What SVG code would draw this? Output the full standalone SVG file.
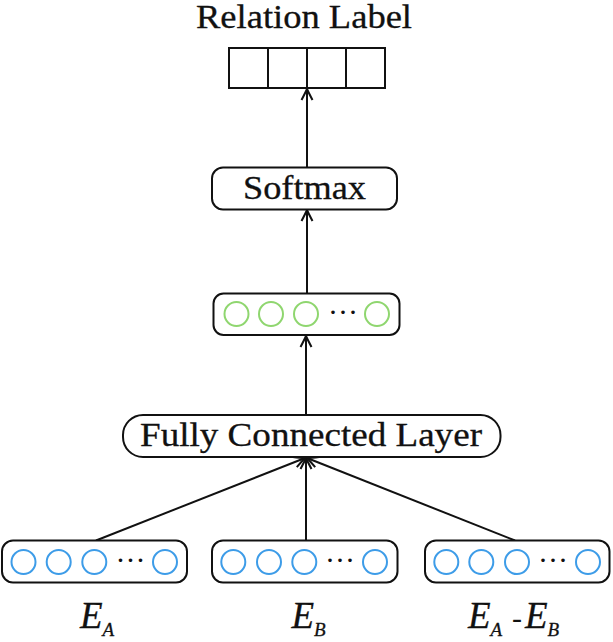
<svg xmlns="http://www.w3.org/2000/svg" width="613" height="642" viewBox="0 0 613 642">
<style>
.box{fill:#fff;stroke:#111;stroke-width:2}
.lbl{font-family:"Liberation Serif","Times New Roman",Times,serif;font-size:33px;fill:#111;stroke:#111;stroke-width:0.3}
.gc{fill:none;stroke:#8fd66f;stroke-width:2}
.bc{fill:none;stroke:#3d9ce8;stroke-width:2}
.dots{font-family:"Liberation Serif","Times New Roman",serif;font-size:30px;fill:#111;text-anchor:middle}
.conn{stroke:#111;stroke-width:2;fill:none;marker-end:url(#arr)}
.math{font-family:"Liberation Serif","Times New Roman",Times,serif;font-style:italic;fill:#111;stroke:#111;stroke-width:0.3}
</style>
<defs>
<marker id="arr" viewBox="-14 -8 16 16" refX="0" refY="0" markerWidth="16" markerHeight="16" markerUnits="userSpaceOnUse" orient="auto">
<path d="M-11,-5.5 Q-4,-1.8 0,0 Q-4,1.8 -11,5.5" fill="none" stroke="#111" stroke-width="2"/>
</marker>
</defs>
<rect width="613" height="642" fill="#fff"/>
<g id="connectors">
<line class="conn" x1="307" y1="167" x2="307" y2="89"/>
<line class="conn" x1="307" y1="293" x2="307" y2="210"/>
<line class="conn" x1="306" y1="415" x2="306" y2="336"/>
<line class="conn" x1="96" y1="540.5" x2="305" y2="458"/>
<line class="conn" x1="306" y1="540.5" x2="306" y2="458"/>
<line class="conn" x1="515" y1="540.5" x2="307" y2="458"/>
</g>
<g id="relation-label">
<text class="lbl" x="196" y="28" textLength="216" lengthAdjust="spacingAndGlyphs">Relation Label</text>
<rect x="229" y="48" width="156" height="40" fill="#fff" stroke="#111" stroke-width="2"/>
<line x1="268" y1="48" x2="268" y2="88" stroke="#111" stroke-width="2"/>
<line x1="307" y1="48" x2="307" y2="88" stroke="#111" stroke-width="2"/>
<line x1="346" y1="48" x2="346" y2="88" stroke="#111" stroke-width="2"/>
</g>
<g id="softmax">
<rect class="box" x="212" y="167.5" width="185" height="42" rx="11"/>
<text class="lbl" x="243" y="199" textLength="123" lengthAdjust="spacingAndGlyphs">Softmax</text>
</g>
<g id="hidden">
<rect class="box" x="213.5" y="293.5" width="186" height="41.5" rx="10"/>
<circle class="gc" cx="236.5" cy="314" r="12"/>
<circle class="gc" cx="271" cy="314" r="12"/>
<circle class="gc" cx="306" cy="314" r="12"/>
<text class="dots" x="343" y="322">···</text>
<circle class="gc" cx="377" cy="314" r="12"/>
</g>
<g id="fully-connected">
<rect class="box" x="123" y="415" width="377.5" height="42" rx="20"/>
<text class="lbl" x="140" y="446" textLength="342" lengthAdjust="spacingAndGlyphs">Fully Connected Layer</text>
</g>
<g id="ea">
<rect class="box" x="2" y="540.5" width="185" height="42" rx="11"/>
<circle class="bc" cx="23.5" cy="562" r="12"/>
<circle class="bc" cx="58.7" cy="562" r="12"/>
<circle class="bc" cx="94.3" cy="562" r="12"/>
<text class="dots" x="130.5" y="570">···</text>
<circle class="bc" cx="165" cy="562" r="12"/>
<text class="math" x="80" y="628" font-size="37">E<tspan font-size="19" dy="8">A</tspan></text>
</g>
<g id="eb">
<rect class="box" x="212" y="540.5" width="185.5" height="42" rx="11"/>
<circle class="bc" cx="233.3" cy="562" r="12"/>
<circle class="bc" cx="269" cy="562" r="12"/>
<circle class="bc" cx="304.3" cy="562" r="12"/>
<text class="dots" x="340" y="570">···</text>
<circle class="bc" cx="375" cy="562" r="12"/>
<text class="math" x="291.5" y="628" font-size="37">E<tspan font-size="19" dy="8">B</tspan></text>
</g>
<g id="ea-minus-eb">
<rect class="box" x="425" y="540.5" width="184.5" height="42" rx="11"/>
<circle class="bc" cx="446.3" cy="562" r="12"/>
<circle class="bc" cx="481.3" cy="562" r="12"/>
<circle class="bc" cx="517" cy="562" r="12"/>
<text class="dots" x="553" y="570">···</text>
<circle class="bc" cx="588" cy="562" r="12"/>
<text class="math" x="468" y="628" font-size="37">E<tspan font-size="19" dy="8">A</tspan></text>
<text x="512" y="628" font-family="Liberation Serif, serif" font-size="30" fill="#111">-</text>
<text class="math" x="525" y="628" font-size="37">E<tspan font-size="19" dy="8">B</tspan></text>
</g>
</svg>
